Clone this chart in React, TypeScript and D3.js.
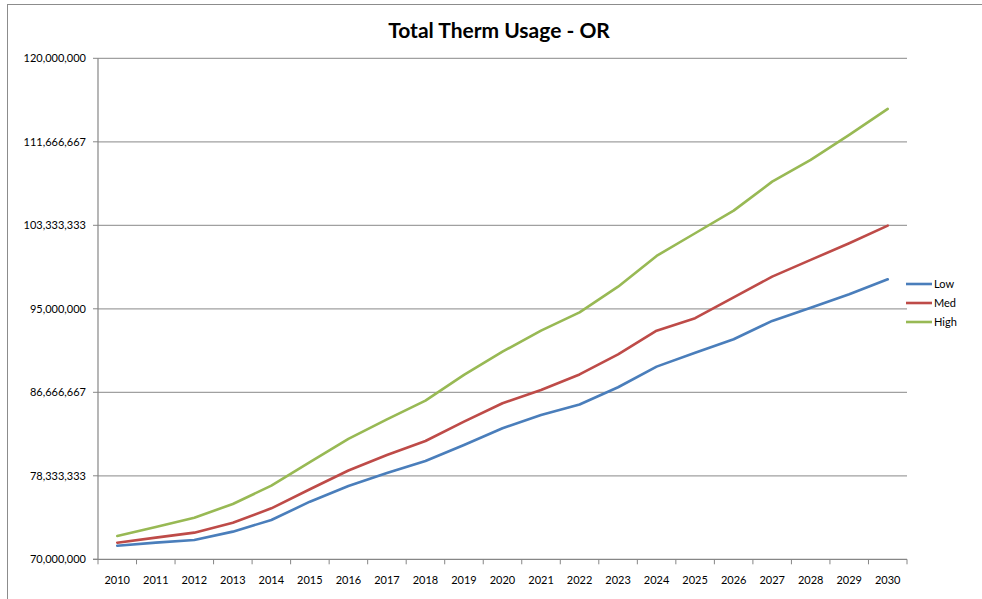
import React from "react";
import * as d3 from "d3";

const years = ["2010","2011","2012","2013","2014","2015","2016","2017","2018","2019","2020","2021","2022","2023","2024","2025","2026","2027","2028","2029","2030"];
const low = [71.36,71.66,71.93,72.76,73.92,75.75,77.32,78.61,79.81,81.41,83.08,84.40,85.45,87.17,89.23,90.62,91.96,93.79,95.11,96.45,97.95];
const med = [71.66,72.16,72.66,73.65,75.09,76.99,78.86,80.41,81.81,83.74,85.57,86.90,88.45,90.46,92.82,94.06,96.13,98.21,99.88,101.54,103.30];
const high = [72.33,73.22,74.15,75.52,77.35,79.69,82.01,83.97,85.83,88.40,90.72,92.82,94.64,97.21,100.28,102.54,104.80,107.69,109.86,112.35,114.95];
const yTicks = [70000000, 78333333.33, 86666666.67, 95000000, 103333333.33, 111666666.67, 120000000];
const seriesNames = ["Low", "Med", "High"];
const seriesColors = ["#4A7EBB", "#BE4B48", "#98B954"];

const W = 982, H = 599;
const plot = { left: 98, right: 907, top: 58.3, bottom: 559.3 };
const FONT = "Lato, 'Open Sans', 'Liberation Sans', sans-serif";

export default function App() {
  const x = d3.scaleBand().domain(years).range([plot.left, plot.right]);
  const y = d3.scaleLinear().domain([70000000, 120000000]).range([plot.bottom, plot.top]);
  const fmt = d3.format(",.0f");
  const allSeries = [low, med, high];
  const line = d3.line<number>()
    .x((_, i) => (x(years[i]) as number) + x.bandwidth() / 2)
    .y((v) => y(v * 1e6));
  const boundaries = years.map((yr) => x(yr) as number).concat([plot.right]);

  return (
    <svg width={W} height={H} style={{ position: "absolute", left: 0, top: 0, background: "#fff" }} fontFamily={FONT}>
      <rect x={0} y={0} width={W} height={H} fill="#fff" />
      <line x1={7} y1={4.5} x2={W} y2={4.5} stroke="#8c8c8c" strokeWidth={1} />
      <line x1={7.5} y1={4} x2={7.5} y2={H} stroke="#8c8c8c" strokeWidth={1} />
      <text x={499} y={38} textAnchor="middle" fontSize={21} fontWeight="bold" fill="#000">Total Therm Usage - OR</text>
      {yTicks.map((t, i) => i === 0 ? null : (
        <line key={"g" + i} x1={plot.left} x2={plot.right} y1={y(t)} y2={y(t)} stroke="#a0a0a0" strokeWidth={1.2} />
      ))}
      <line x1={plot.left} x2={plot.left} y1={plot.top} y2={plot.bottom} stroke="#868686" strokeWidth={1.2} />
      {yTicks.map((t, i) => (
        <g key={"y" + i}>
          <line x1={plot.left - 5} x2={plot.left} y1={y(t)} y2={y(t)} stroke="#868686" strokeWidth={1} />
          <text x={86} y={y(t)} dy="0.35em" textAnchor="end" fontSize={11} fill="#000">{fmt(t)}</text>
        </g>
      ))}
      <line x1={plot.left - 5} x2={plot.right} y1={plot.bottom} y2={plot.bottom} stroke="#868686" strokeWidth={1.2} />
      {boundaries.map((b, i) => (
        <line key={"xt" + i} x1={b} x2={b} y1={plot.bottom} y2={plot.bottom + 5} stroke="#868686" strokeWidth={1} />
      ))}
      {years.map((yr) => (
        <text key={yr} x={(x(yr) as number) + x.bandwidth() / 2} y={580} dy="0.35em" textAnchor="middle" fontSize={11} fill="#000">{yr}</text>
      ))}
      {allSeries.map((s, i) => (
        <path key={"s" + i} d={line(s) || ""} fill="none" stroke={seriesColors[i]} strokeWidth={2.6} strokeLinejoin="round" strokeLinecap="round" />
      ))}
      {seriesNames.map((n, i) => (
        <g key={n} transform={`translate(0, ${284 + i * 19})`}>
          <line x1={906} x2={932} y1={0} y2={0} stroke={seriesColors[i]} strokeWidth={2.6} />
          <text x={934} y={0} dy="0.35em" fontSize={11} fill="#000">{n}</text>
        </g>
      ))}
    </svg>
  );
}
